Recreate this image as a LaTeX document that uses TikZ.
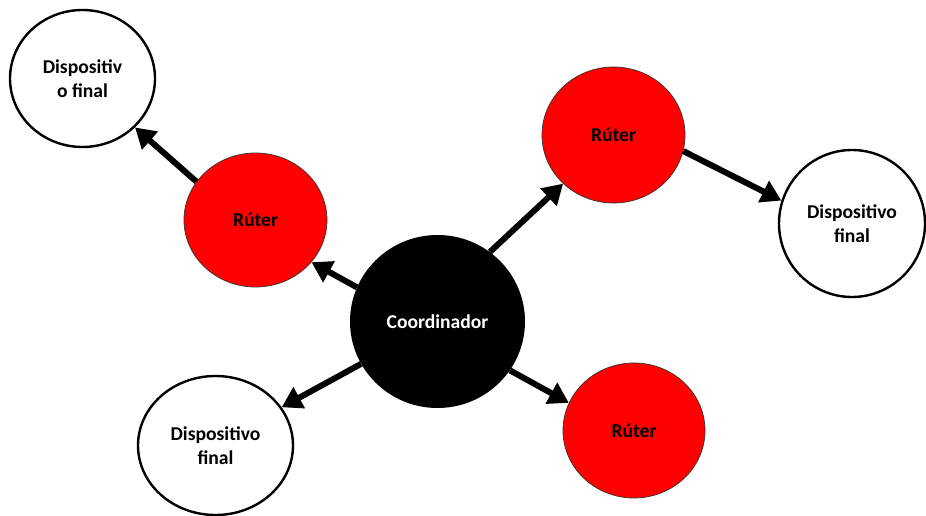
\documentclass[tikz,border=0pt]{standalone}
\usepackage{fontspec}
\setmainfont{Carlito}
\usetikzlibrary{shapes.geometric,arrows.meta}

\definecolor{routerred}{RGB}{255,0,0}

\tikzset{
  base/.style={ellipse, inner sep=0pt, align=center,
    font=\fontsize{19.6}{24}\selectfont\bfseries},
  device/.style={base, draw=black, line width=2.4pt, fill=white, text=black},
  router/.style={base, draw=black!80, line width=0.7pt, fill=routerred, text=black},
  coord/.style={base, fill=black, text=white},
  link/.style={line width=6pt, -{Triangle[length=20pt,width=23pt]}}
}

\begin{document}
\begin{tikzpicture}[x=1pt, y=-1pt]
  \useasboundingbox (0,0) rectangle (926,516);

  % end devices
  \node[device, minimum width=145pt, minimum height=137pt] (d1) at (82.5,78.5) {Dispositiv\\o final};
  \node[device, minimum width=146pt, minimum height=147pt] (d2) at (852,223.5) {Dispositivo\\final};
  \node[device, minimum width=155pt, minimum height=139pt] (d3) at (215.5,445.5) {Dispositivo\\final};

  % routers
  \node[router, minimum width=143pt, minimum height=134pt] (r1) at (255.5,220) {Rúter};
  \node[router, minimum width=143pt, minimum height=136pt] (r2) at (613.5,135) {Rúter};
  \node[router, minimum width=142pt, minimum height=135pt] (r3) at (634,430.5) {Rúter};

  % coordinator
  \node[coord, minimum width=175pt, minimum height=173pt] (c) at (437.5,321.5) {Coordinador};

  % links
  \draw[link] (r1.147) -- (d1.-43);
  \draw[link] (c.157) -- (r1.-37);
  \draw[link] (c.53) -- (r2.-136);
  \draw[link] (r2.-13) -- (d2.162);
  \draw[link] (c.209) -- (d3.30);
  \draw[link] (c.-34) -- (r3.157);
\end{tikzpicture}
\end{document}
